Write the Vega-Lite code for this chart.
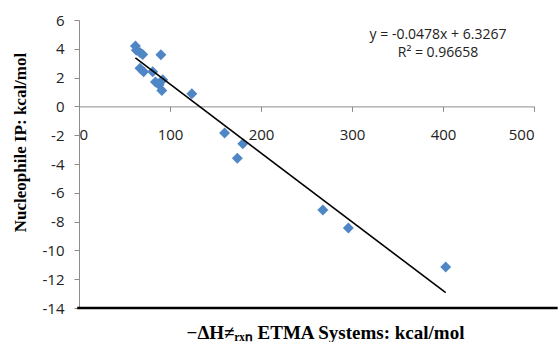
{
  "$schema": "https://vega.github.io/schema/vega-lite/v6.json",
  "width": 455,
  "height": 288,
  "autosize": "none",
  "padding": {"left": 79, "top": 20, "right": 24, "bottom": 34},
  "background": "white",
  "config": {
    "view": {"stroke": null},
    "axis": {"labelOverlap": false}
  },
  "datasets": {
    "systems": [
      {"dh": 62, "ip": 4.2},
      {"dh": 63, "ip": 3.9},
      {"dh": 67, "ip": 3.75},
      {"dh": 70, "ip": 3.6},
      {"dh": 90, "ip": 3.58},
      {"dh": 67, "ip": 2.65},
      {"dh": 71, "ip": 2.4},
      {"dh": 81, "ip": 2.4},
      {"dh": 84, "ip": 1.7},
      {"dh": 88, "ip": 1.5},
      {"dh": 92, "ip": 1.85},
      {"dh": 91, "ip": 1.1},
      {"dh": 124, "ip": 0.88},
      {"dh": 160, "ip": -1.85},
      {"dh": 180, "ip": -2.6},
      {"dh": 174, "ip": -3.6},
      {"dh": 268, "ip": -7.2},
      {"dh": 296, "ip": -8.45},
      {"dh": 403, "ip": -11.15}
    ],
    "trend": [
      {"dh": 62, "ip": 3.3631},
      {"dh": 403, "ip": -12.9367}
    ],
    "equation": [
      {"dh": 394.5, "ip": 4.96, "text": "y = -0.0478x + 6.3267"},
      {"dh": 394.5, "ip": 3.7, "text": "R² = 0.96658"}
    ],
    "baseline": [
      {"from": -2, "to": 526, "level": -14}
    ]
  },
  "layer": [
    {
      "data": {"name": "systems"},
      "mark": {"type": "point", "shape": "diamond", "filled": true, "size": 120, "color": "#4F86C6", "opacity": 1},
      "encoding": {
        "x": {
          "field": "dh",
          "type": "quantitative",
          "scale": {"domain": [0, 500], "nice": false, "zero": false},
          "axis": {
            "orient": "bottom",
            "offset": -201.6,
            "values": [0, 100, 200, 300, 400, 500],
            "tickCount": 6,
            "grid": false,
            "domainColor": "#8C8C8C",
            "tickColor": "#8C8C8C",
            "tickSize": 5,
            "labelPadding": 16,
            "labelFont": "Open Sans",
            "labelFontSize": 15,
            "labelColor": "#222222",
            "title": "−ΔH≠ᵣₓₙ ETMA Systems: kcal/mol",
            "titleFont": "Liberation Serif",
            "titleFontSize": 19,
            "titleFontWeight": "bold",
            "titleColor": "#000000",
            "titleX": 246,
            "titleY": 231.6,
            "titleAlign": "center",
            "titleBaseline": "alphabetic"
          }
        },
        "y": {
          "field": "ip",
          "type": "quantitative",
          "scale": {"domain": [-14, 6], "nice": false, "zero": false},
          "axis": {
            "values": [-14, -12, -10, -8, -6, -4, -2, 0, 2, 4, 6],
            "tickCount": 11,
            "labelExpr": "replace(datum.label, '−', '-')",
            "grid": false,
            "domainColor": "#8C8C8C",
            "tickColor": "#8C8C8C",
            "tickSize": 5,
            "labelPadding": 10,
            "labelFont": "Open Sans",
            "labelFontSize": 15,
            "labelColor": "#222222",
            "title": "Nucleophile IP: kcal/mol",
            "titleFont": "Liberation Serif",
            "titleFontSize": 17,
            "titleFontWeight": "bold",
            "titleColor": "#000000",
            "titleX": -59,
            "titleY": 122,
            "titleAlign": "center",
            "titleBaseline": "middle"
          }
        }
      }
    },
    {
      "data": {"name": "baseline"},
      "mark": {"type": "rule", "color": "#000000", "strokeWidth": 2.5},
      "encoding": {
        "x": {"field": "from", "type": "quantitative"},
        "x2": {"field": "to"},
        "y": {"field": "level", "type": "quantitative"}
      }
    },
    {
      "data": {"name": "trend"},
      "mark": {"type": "line", "color": "#000000", "strokeWidth": 1.6},
      "encoding": {
        "x": {"field": "dh", "type": "quantitative"},
        "y": {"field": "ip", "type": "quantitative"}
      }
    },
    {
      "data": {"name": "equation"},
      "mark": {"type": "text", "font": "Open Sans", "fontSize": 14, "color": "#222222", "align": "center", "baseline": "middle"},
      "encoding": {
        "x": {"field": "dh", "type": "quantitative"},
        "y": {"field": "ip", "type": "quantitative"},
        "text": {"field": "text"}
      }
    }
  ]
}
